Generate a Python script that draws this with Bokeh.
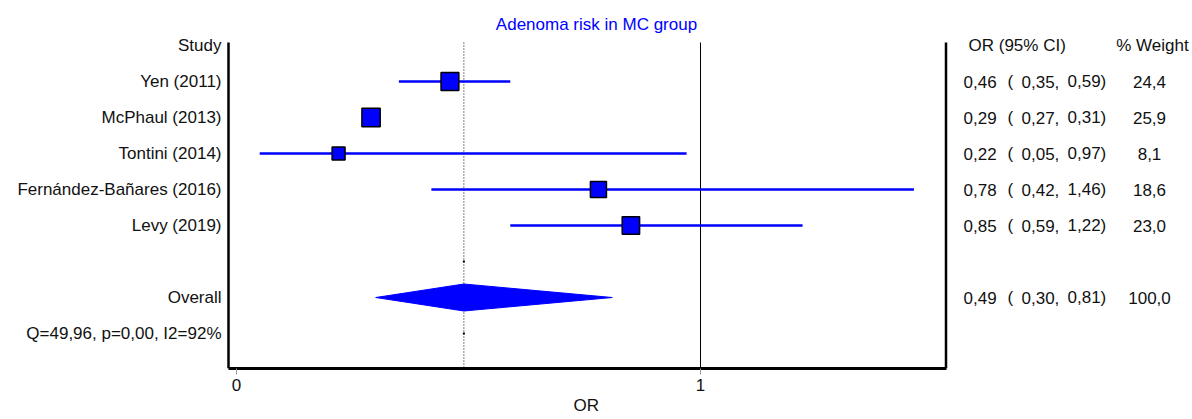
from bokeh.plotting import figure
from bokeh.models import Range1d, FixedTicker, ColumnDataSource, Title
from bokeh.core.properties import value
from bokeh.embed import file_html
from bokeh.resources import INLINE

# ---- data -------------------------------------------------------------
studies = ["Yen (2011)", "McPhaul (2013)", "Tontini (2014)",
           "Fernández-Bañares (2016)", "Levy (2019)"]
or_est = [0.46, 0.29, 0.22, 0.78, 0.85]
ci_low = [0.35, 0.27, 0.05, 0.42, 0.59]
ci_high = [0.59, 0.31, 0.97, 1.46, 1.22]
weights = [24.4, 25.9, 8.1, 18.6, 23.0]

pooled_label = "Overall"
pooled_est = 0.49
pooled_low = 0.30
pooled_high = 0.81
pooled_weight = 100.0

heterogeneity = "Q=49,96, p=0,00, I2=92%"
title_text = "Adenoma risk in MC group"
x_ticks = [0, 1]
x_caption = "OR"

# ---- layout helpers ---------------------------------------------------
W, H = 1192, 419
ZERO_PX, UNIT_PX = 236.0, 464.0      # canvas pixel of OR=0 and pixels per OR unit
ROW0_PX, ROW_PX = 45.0, 36.0         # canvas pixel of first row and row pitch
FRAME_BOTTOM_PX = 368.0


def xpx(px):
    return (px - ZERO_PX) / UNIT_PX


def ypx(py):
    return (py - ROW0_PX) / ROW_PX


def fmt(v, nd=2):
    return f"{v:.{nd}f}".replace(".", ",")


FONT = value("Liberation Sans")
FS = "17px"
BLUE = "#0000FF"
INK = "#111111"

p = figure(width=W, height=H, output_backend="svg", toolbar_location=None,
           x_range=Range1d(xpx(0), xpx(W)),
           y_range=Range1d(ypx(FRAME_BOTTOM_PX), ypx(0)),
           y_axis_location=None,
           min_border_left=0, min_border_right=0, min_border_top=0,
           min_border_bottom=int(H - FRAME_BOTTOM_PX))
p.grid.visible = False
p.outline_line_color = None
p.background_fill_color = "white"
p.border_fill_color = "white"

left_edge, right_edge = xpx(228), xpx(945.5)
top_row = ypx(42)
bottom_row = ypx(FRAME_BOTTOM_PX)

ax = p.xaxis[0]
ax.ticker = FixedTicker(ticks=x_ticks)
ax.bounds = (left_edge, right_edge)
ax.axis_line_width = 3
ax.axis_line_color = "black"
ax.major_tick_in = 0
ax.major_tick_out = 6
ax.major_tick_line_color = "#999999"
ax.minor_tick_line_color = None
ax.major_label_text_font = "Liberation Sans"
ax.major_label_text_font_size = FS
ax.major_label_text_color = INK
ax.major_label_standoff = 4

# axis caption, placed under the plotting region
p.add_layout(Title(text=x_caption, align="left", offset=573, standoff=0,
                   text_font="Liberation Sans", text_font_size=FS,
                   text_font_style="normal", text_color=INK), "below")

# frame sides and reference lines
p.segment(x0=[left_edge, right_edge], y0=[top_row, top_row],
          x1=[left_edge, right_edge], y1=[bottom_row, bottom_row],
          line_color="black", line_width=2.5)
p.segment(x0=[1], y0=[top_row], x1=[1], y1=[bottom_row],
          line_color="black", line_width=1)
p.segment(x0=[pooled_est], y0=[top_row], x1=[pooled_est], y1=[bottom_row],
          line_color="black", line_width=1, line_dash="1 2")

rows = list(range(1, len(studies) + 1))
overall_row = len(studies) + 2
het_row = overall_row + 1

src = ColumnDataSource(dict(
    row=rows, est=or_est, lo=ci_low, hi=ci_high,
    size=[10.5 + 0.3 * w for w in weights],
))

# confidence intervals and weighted squares
p.segment(x0="lo", y0="row", x1="hi", y1="row", source=src,
          line_color=BLUE, line_width=2.5)
p.scatter(x="est", y="row", size="size", marker="square", source=src,
          fill_color=BLUE, line_color="black", line_width=1.5)

# pooled diamond
half_h = 0.375
p.patch(x=[pooled_low, pooled_est, pooled_high, pooled_est],
        y=[overall_row, overall_row - half_h, overall_row, overall_row + half_h],
        fill_color=BLUE, line_color=BLUE, line_width=1)
p.scatter(x=[pooled_est, pooled_est], y=[overall_row - 1, het_row],
          marker="square", size=2, fill_color="black", line_color=None)

# left column: study names
left_txt = ColumnDataSource(dict(
    x=[xpx(221)] * (len(studies) + 3),
    y=[0] + rows + [overall_row, het_row],
    t=["Study"] + studies + [pooled_label, heterogeneity],
))
p.text(x="x", y="y", text="t", source=left_txt, text_align="right",
       text_baseline="middle", text_font=FONT, text_font_size=FS,
       text_color=INK)

# right columns: OR (95% CI) and weight
all_rows = rows + [overall_row]
all_est = or_est + [pooled_est]
all_lo = ci_low + [pooled_low]
all_hi = ci_high + [pooled_high]
all_w = weights + [pooled_weight]
n = len(all_rows)


def col_text(xp, texts, align="left"):
    p.text(x=[xpx(xp)] * len(texts), y=all_rows, text=texts,
           text_align=align, text_baseline="middle", text_font=FONT,
           text_font_size=FS, text_color=INK)


col_text(963, [fmt(v) for v in all_est])
col_text(1007, ["("] * n)
col_text(1021, [fmt(v) + "," for v in all_lo])
col_text(1067, [fmt(v) + ")" for v in all_hi])
col_text(1149, [fmt(v, 1) for v in all_w], align="center")

p.text(x=[xpx(968), xpx(1152)], y=[0, 0], text=["OR (95% CI)", "% Weight"],
       text_align=["left", "center"], text_baseline="middle", text_font=FONT,
       text_font_size=FS, text_color=INK)

# chart title
p.text(x=[xpx(596)], y=[ypx(24)], text=[title_text], text_align="center",
       text_baseline="middle", text_font=FONT, text_font_size=FS,
       text_color=BLUE)

open("out.html", "w").write(file_html(p, INLINE))
